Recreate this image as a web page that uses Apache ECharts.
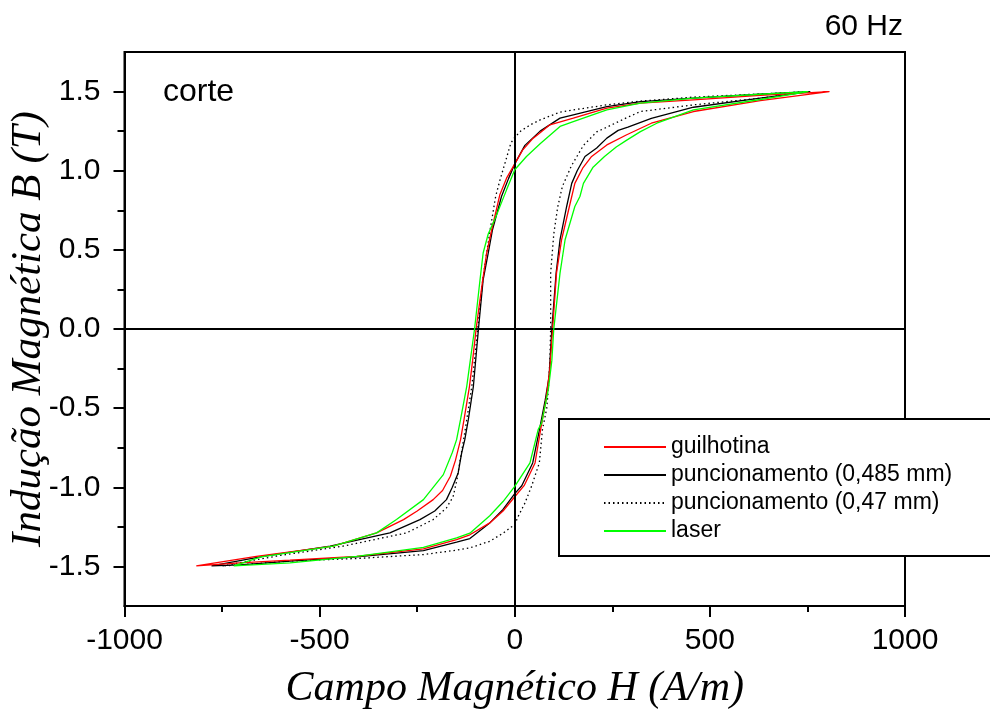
<!DOCTYPE html>
<html lang="pt">
<head>
    <meta charset="UTF-8">
    <title>Histerese - corte</title>
    <script src="https://cdn.jsdelivr.net/npm/echarts@6/dist/echarts.min.js"></script>
    <style>
        * { margin: 0; padding: 0; }
        body { background: #fff; }
        #main { width: 990px; height: 716px; }
    </style>
</head>
<body>
<div id="main"></div>
<script>
    // ramo superior (descendo) e ramo inferior (subindo) de cada laço: [H (A/m), B (T)]
    var guilhotinaUpper = [[806,1.50],[629,1.476],[458,1.448],[322,1.427],[236,1.395],[150,1.332],[90,1.29],[65,1.24],[45,1.20],[20,1.13],[0,1.043],[-21,0.953],[-38,0.85],[-59,0.627],[-72,0.48],[-82,0.311],[-91,0.15],[-99,0],[-108,-0.2],[-116,-0.362],[-130,-0.573],[-139,-0.70],[-152,-0.83],[-165,-0.93],[-185,-1.02],[-209,-1.078],[-250,-1.15],[-285,-1.204],[-354,-1.288],[-465,-1.372],[-662,-1.436],[-816,-1.497]];
    var guilhotinaLower = [[-816,-1.497],[-704,-1.477],[-576,-1.46],[-405,-1.436],[-234,-1.389],[-149,-1.33],[-115,-1.30],[-64,-1.225],[-30,-1.15],[0,-1.06],[24,-0.99],[52,-0.846],[66,-0.64],[80,-0.45],[90,-0.25],[97,0],[107,0.353],[120,0.564],[140,0.774],[154,0.92],[175,1.02],[197,1.09],[236,1.163],[287,1.227],[350,1.30],[458,1.374],[629,1.443],[806,1.50]];

    var punc485Upper = [[757,1.50],[629,1.483],[458,1.458],[322,1.437],[236,1.405],[150,1.353],[116,1.332],[65,1.25],[26,1.16],[0,1.043],[-16,0.95],[-34,0.837],[-57,0.627],[-68,0.48],[-81,0.311],[-93,0],[-106,-0.362],[-119,-0.573],[-128,-0.699],[-136,-0.783],[-145,-0.909],[-160,-1.0],[-175,-1.078],[-205,-1.15],[-243,-1.204],[-320,-1.288],[-473,-1.372],[-645,-1.436],[-777,-1.497]];
    var punc485Lower = [[-777,-1.497],[-704,-1.49],[-576,-1.466],[-405,-1.44],[-234,-1.40],[-149,-1.347],[-115,-1.324],[-64,-1.225],[-30,-1.14],[0,-1.04],[18,-0.99],[46,-0.846],[63,-0.64],[78,-0.45],[88,-0.3],[95,0],[106,0.353],[116,0.564],[133,0.774],[146,0.92],[160,1.0],[180,1.09],[210,1.143],[236,1.206],[265,1.255],[290,1.275],[350,1.33],[458,1.401],[629,1.458],[757,1.50]];

    var punc47Upper = [[752,1.50],[629,1.485],[458,1.465],[322,1.44],[236,1.416],[150,1.384],[116,1.37],[65,1.321],[40,1.29],[15,1.25],[0,1.21],[-10,1.174],[-25,1.048],[-38,0.94],[-49,0.837],[-63,0.627],[-72,0.48],[-82,0.311],[-95,0],[-110,-0.362],[-123,-0.573],[-131,-0.699],[-138,-0.80],[-148,-0.95],[-158,-1.06],[-175,-1.13],[-209,-1.204],[-243,-1.246],[-277,-1.288],[-440,-1.372],[-600,-1.43],[-750,-1.497]];
    var punc47Lower = [[-750,-1.497],[-704,-1.49],[-576,-1.466],[-405,-1.45],[-234,-1.425],[-149,-1.397],[-115,-1.383],[-64,-1.341],[-30,-1.29],[0,-1.235],[9,-1.183],[26,-1.10],[43,-0.994],[63,-0.846],[71,-0.636],[82,-0.50],[86,-0.383],[90,-0.2],[92,0],[92,0.353],[100,0.6],[110,0.77],[122,0.9],[145,1.03],[176,1.16],[210,1.245],[236,1.275],[287,1.335],[322,1.374],[458,1.416],[629,1.458],[752,1.50]];

    var laserUpper = [[752,1.50],[629,1.483],[458,1.458],[322,1.427],[236,1.384],[150,1.31],[116,1.28],[65,1.17],[30,1.09],[0,1.006],[-21,0.879],[-50,0.70],[-68,0.60],[-81,0.48],[-89,0.311],[-103,0],[-123,-0.362],[-139,-0.573],[-149,-0.699],[-160,-0.78],[-183,-0.92],[-234,-1.078],[-303,-1.204],[-354,-1.288],[-465,-1.372],[-650,-1.44],[-720,-1.497]];
    var laserLower = [[-720,-1.497],[-576,-1.477],[-405,-1.436],[-234,-1.38],[-149,-1.32],[-115,-1.29],[-64,-1.18],[-30,-1.09],[0,-0.994],[39,-0.846],[60,-0.636],[69,-0.593],[86,-0.383],[95,-0.2],[100,0],[116,0.353],[129,0.564],[154,0.774],[167,0.837],[176,0.92],[200,1.02],[230,1.09],[260,1.15],[285,1.19],[322,1.247],[364,1.30],[458,1.385],[629,1.45],[752,1.50]];

    var seriesNames = ['guilhotina', 'puncionamento (0,485 mm)', 'puncionamento (0,47 mm)', 'laser'];
    var yTickValues = [-1.5, -1.0, -0.5, 0.0, 0.5, 1.0, 1.5];
    var yMinorValues = [-1.25, -0.75, -0.25, 0.25, 0.75, 1.25];

    window.onload = function () {
        var chart = echarts.init(document.getElementById('main'), null, {renderer: 'canvas'});

        var sans = 'Liberation Sans, Arial, sans-serif';
        var serif = 'Liberation Serif, Times New Roman, serif';

        option = {
            animation: false,
            backgroundColor: '#fff',
            grid: {
                left: 124.5,
                right: 85,
                top: 52,
                bottom: 110,
                containLabel: false,
                outerBoundsMode: 'none',
                show: true,
                borderColor: '#000',
                borderWidth: 2,
                backgroundColor: 'transparent'
            },
            xAxis: {
                type: 'value',
                min: -1000,
                max: 1000,
                interval: 500,
                name: 'Campo Magnético H (A/m)',
                nameLocation: 'middle',
                nameGap: 62,
                nameTextStyle: {fontFamily: serif, fontStyle: 'italic', fontSize: 42, color: '#000'},
                axisLine: {onZero: false, lineStyle: {color: '#000', width: 2}},
                axisTick: {length: 11, lineStyle: {color: '#000', width: 2}},
                minorTick: {show: true, splitNumber: 2, length: 6, lineStyle: {color: '#000', width: 2}},
                axisLabel: {
                    margin: 20, fontSize: 30, fontFamily: sans, color: '#000',
                    formatter: function (v) { return String(v); }
                },
                splitLine: {show: false}
            },
            yAxis: [{
                type: 'value',
                min: -1.75,
                max: 1.75,
                name: 'Indução Magnética B (T)',
                nameLocation: 'middle',
                nameGap: 74,
                nameMoveOverlap: false,
                nameRotate: 90,
                nameTextStyle: {fontFamily: serif, fontStyle: 'italic', fontSize: 43, color: '#000'},
                axisLine: {onZero: false, lineStyle: {color: '#000', width: 2}},
                axisTick: {length: 11, customValues: yTickValues, lineStyle: {color: '#000', width: 2}},
                axisLabel: {
                    margin: 24, fontSize: 30, fontFamily: sans, color: '#000',
                    customValues: yTickValues,
                    formatter: function (v) { return v.toFixed(1); }
                },
                splitLine: {show: false}
            }, {
                type: 'value',
                min: -1.75,
                max: 1.75,
                position: 'left',
                axisLine: {show: false, onZero: false},
                axisTick: {show: true, length: 7, customValues: yMinorValues, lineStyle: {color: '#000', width: 2}},
                axisLabel: {show: false},
                splitLine: {show: false}
            }],
            legend: {
                orient: 'vertical',
                left: 559,
                top: 419,
                padding: [14, 60, 11, 44],
                backgroundColor: '#fff',
                borderColor: '#000',
                borderWidth: 2,
                borderRadius: 0,
                itemWidth: 62,
                itemHeight: 14,
                itemGap: 0,
                itemStyle: {opacity: 0},
                data: seriesNames,
                textStyle: {fontSize: 23, lineHeight: 28, fontFamily: sans, color: '#000'}
            },
            graphic: [
                {type: 'text', right: 87, top: 12,
                    style: {text: '60 Hz', font: '30px ' + sans, fill: '#000'}},
                {type: 'text', left: 163, top: 76,
                    style: {text: 'corte', font: '32px ' + sans, fill: '#000'}}
            ],
            series: [
                {
                    name: seriesNames[0], type: 'line', symbol: 'none',
                    data: guilhotinaUpper.concat(guilhotinaLower),
                    lineStyle: {color: '#ff0000', width: 1.3},
                    itemStyle: {color: '#ff0000'},
                    z: 4,
                    markLine: {
                        silent: true, symbol: ['none', 'none'], label: {show: false},
                        lineStyle: {color: '#000', type: 'solid', width: 2},
                        data: [{yAxis: 0}, {xAxis: 0}]
                    }
                },
                {
                    name: seriesNames[1], type: 'line', symbol: 'none',
                    data: punc485Upper.concat(punc485Lower),
                    lineStyle: {color: '#000', width: 1.3},
                    itemStyle: {color: '#000'},
                    z: 3
                },
                {
                    name: seriesNames[2], type: 'line', symbol: 'none',
                    data: punc47Upper.concat(punc47Lower),
                    lineStyle: {color: '#000', width: 1.3, type: [1.5, 3]},
                    itemStyle: {color: '#000'},
                    z: 3
                },
                {
                    name: seriesNames[3], type: 'line', symbol: 'none',
                    data: laserUpper.concat(laserLower),
                    lineStyle: {color: '#00ff00', width: 1.3},
                    itemStyle: {color: '#00ff00'},
                    z: 5
                }
            ]
        };

        chart.setOption(option);
    };
</script>
</body>
</html>
